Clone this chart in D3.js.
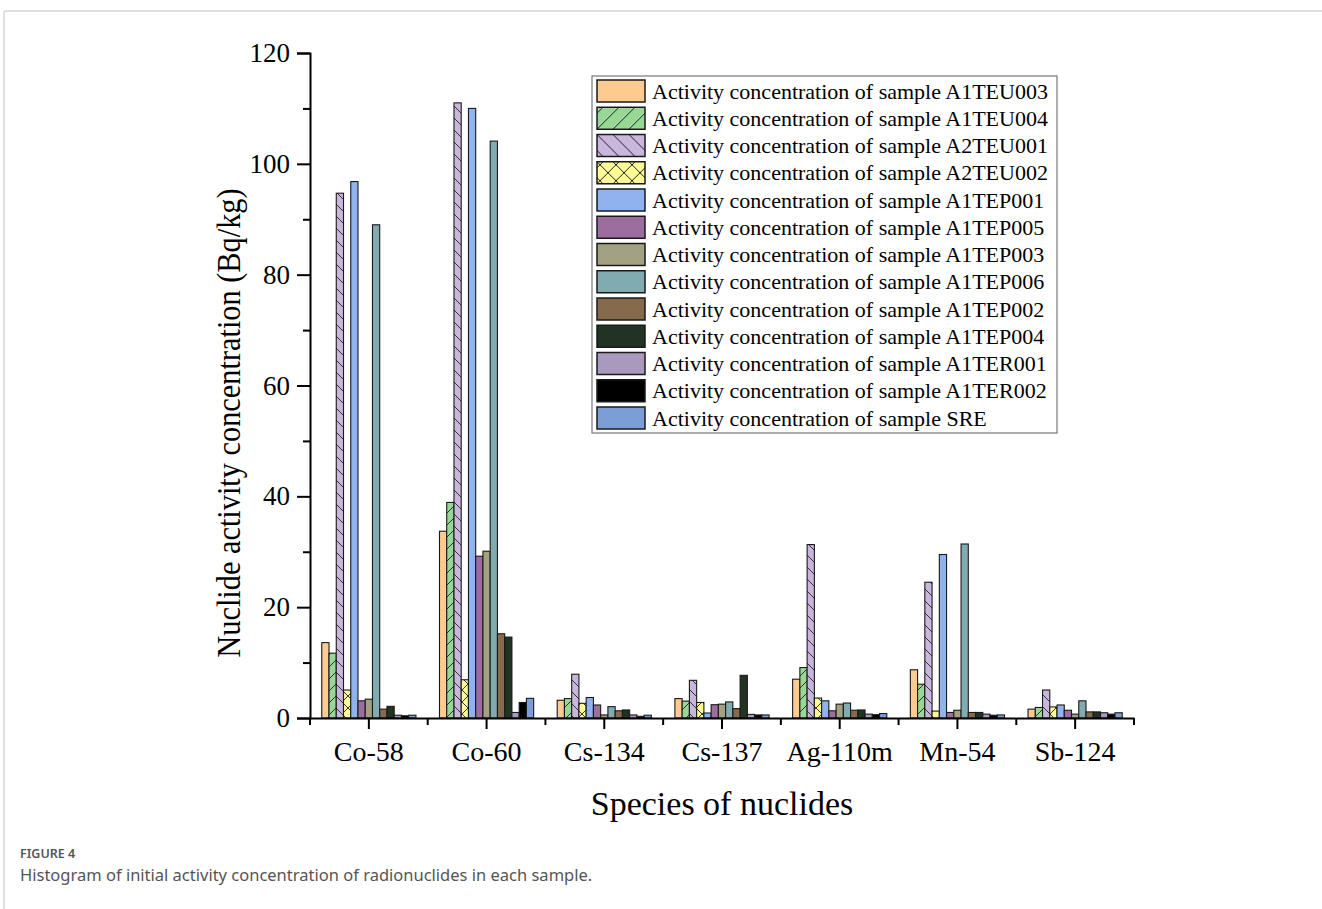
<!DOCTYPE html>
<html>
<head>
<meta charset="utf-8">
<script src="https://cdn.jsdelivr.net/npm/d3@7"></script>
<style>
  html, body { margin: 0; padding: 0; background: #fff; }
  svg { display: block; }
</style>
</head>
<body>
<svg id="chart" width="1322" height="909"></svg>
<script>
// ---------------- DATA ----------------
const categories = ["Co-58", "Co-60", "Cs-134", "Cs-137", "Ag-110m", "Mn-54", "Sb-124"];
const samples = ["A1TEU003", "A1TEU004", "A2TEU001", "A2TEU002", "A1TEP001", "A1TEP005",
                 "A1TEP003", "A1TEP006", "A1TEP002", "A1TEP004", "A1TER001", "A1TER002", "SRE"];
const A1TEU003 = [13.6, 33.7, 3.2, 3.5, 7.0, 8.7, 1.6];
const A1TEU004 = [11.7, 38.9, 3.5, 3.05, 9.1, 6.1, 1.9];
const A2TEU001 = [94.7, 111.0, 7.9, 6.8, 31.3, 24.5, 5.05];
const A2TEU002 = [5.05, 6.9, 2.65, 2.8, 3.6, 1.25, 2.0];
const A1TEP001 = [96.8, 110.0, 3.7, 0.9, 3.1, 29.5, 2.35];
const A1TEP005 = [3.1, 29.2, 2.35, 2.4, 1.3, 1.0, 1.4];
const A1TEP003 = [3.4, 30.1, 0.55, 2.5, 2.5, 1.4, 0.7];
const A1TEP006 = [89.0, 104.1, 2.05, 2.9, 2.7, 31.4, 3.1];
const A1TEP002 = [1.6, 15.2, 1.3, 1.7, 1.4, 1.0, 1.1];
const A1TEP004 = [2.1, 14.6, 1.45, 7.7, 1.45, 1.0, 1.1];
const A1TER001 = [0.5, 1.0, 0.55, 0.65, 0.7, 0.7, 0.95];
const A1TER002 = [0.4, 2.8, 0.3, 0.55, 0.6, 0.5, 0.7];
const SRE      = [0.5, 3.55, 0.5, 0.55, 0.8, 0.55, 0.95];
const yTicks = [0, 20, 40, 60, 80, 100, 120];
const yMinorTicks = [10, 30, 50, 70, 90, 110];

const seriesValues = [A1TEU003, A1TEU004, A2TEU001, A2TEU002, A1TEP001, A1TEP005,
                      A1TEP003, A1TEP006, A1TEP002, A1TEP004, A1TER001, A1TER002, SRE];
const colors = ["#fdcb90", "#97d897", "#c9b6dc", "#fbf996", "#8fb3ee", "#9b6e9f",
                "#a2a283", "#80acb1", "#866a4c", "#213322", "#aa99be", "#000000", "#7c9ed6"];
const hatch = ["none", "fwd", "back", "cross", "none", "none", "none", "none", "none", "none", "none", "none", "none"];

// ---------------- CHART ----------------
const svg = d3.select("#chart");
const serif = "'Liberation Serif', 'Times New Roman', serif";

// frame
svg.append("line").attr("x1", 4).attr("x2", 1322).attr("y1", 11).attr("y2", 11)
  .attr("stroke", "#d6d6d6").attr("stroke-width", 1.5);
svg.append("line").attr("x1", 4).attr("x2", 4).attr("y1", 11).attr("y2", 909)
  .attr("stroke", "#d6d6d6").attr("stroke-width", 1.5);

const defs = svg.append("defs");
function makePattern(id, bg, type, s, w) {
  const p = defs.append("pattern").attr("id", id).attr("patternUnits", "userSpaceOnUse")
    .attr("width", s).attr("height", s);
  p.append("rect").attr("width", s).attr("height", s).attr("fill", bg);
  const e = s / 4;
  if (type === "fwd" || type === "cross") {
    p.append("path").attr("d", `M${-e},${e} L${e},${-e} M0,${s} L${s},0 M${s-e},${s+e} L${s+e},${s-e}`)
      .attr("stroke", "#222").attr("stroke-width", w);
  }
  if (type === "back" || type === "cross") {
    p.append("path").attr("d", `M${-e},${s-e} L${e},${s+e} M0,0 L${s},${s} M${s-e},${-e} L${s+e},${e}`)
      .attr("stroke", "#222").attr("stroke-width", w);
  }
}
const fills = samples.map((s, i) => {
  if (hatch[i] === "none") return colors[i];
  makePattern("pat" + i, colors[i], hatch[i], 12, 0.9);
  return `url(#pat${i})`;
});
const legendFills = samples.map((s, i) => {
  if (hatch[i] === "none") return colors[i];
  makePattern("lpat" + i, colors[i], hatch[i], 16, 1);
  return `url(#lpat${i})`;
});

const x = d3.scaleBand().domain(categories).range([310, 1134]).padding(0);
const xs = d3.scaleBand().domain(samples).range([x.bandwidth() * 0.1, x.bandwidth() * 0.9]).padding(0);
const y = d3.scaleLinear().domain([0, 120]).range([718, 53]);

// bars
const table = [];
categories.forEach((c, ci) => samples.forEach((s, si) => table.push({ c, s, si, v: seriesValues[si][ci] })));

svg.append("g").selectAll("rect").data(table).join("rect")
  .attr("x", d => x(d.c) + xs(d.s))
  .attr("y", d => y(d.v))
  .attr("width", xs.bandwidth())
  .attr("height", d => y(0) - y(d.v))
  .attr("fill", d => fills[d.si])
  .attr("stroke", "#1a1a1a")
  .attr("stroke-width", 1.1);

// y axis
const yAxis = svg.append("g").attr("transform", "translate(310,0)")
  .call(d3.axisLeft(y).tickValues(yTicks).tickSize(13).tickPadding(7));
svg.append("g").attr("transform", "translate(310,0)")
  .call(d3.axisLeft(y).tickValues(yMinorTicks).tickSize(7).tickFormat(""))
  .call(g => g.select(".domain").remove());
// x axis
const xAxis = svg.append("g").attr("transform", "translate(0,718)")
  .call(d3.axisBottom(x).tickSize(11).tickPadding(12).tickSizeOuter(0));
const boundaries = d3.range(categories.length + 1).map(i => x.range()[0] + i * x.step());
svg.append("g").attr("transform", "translate(0,718)")
  .selectAll("line").data(boundaries).join("line")
  .attr("x1", d => d).attr("x2", d => d).attr("y1", 0).attr("y2", 7)
  .attr("stroke", "#000").attr("stroke-width", 2);

svg.selectAll(".domain").attr("stroke", "#000").attr("stroke-width", 2);
svg.selectAll(".tick line").attr("stroke", "#000").attr("stroke-width", 2);
yAxis.selectAll(".tick text").attr("font-family", serif).attr("font-size", 27).attr("fill", "#000");
xAxis.selectAll(".tick text").attr("font-family", serif).attr("font-size", 28).attr("fill", "#000");

// axis titles
svg.append("text").attr("transform", "translate(240,423) rotate(-90) scale(0.92,1)")
  .attr("text-anchor", "middle").attr("font-family", serif).attr("font-size", 33)
  .text("Nuclide activity concentration (Bq/kg)");
svg.append("text").attr("x", 722).attr("y", 815)
  .attr("text-anchor", "middle").attr("font-family", serif).attr("font-size", 34)
  .text("Species of nuclides");

// legend
const lg = svg.append("g");
lg.append("rect").attr("x", 592).attr("y", 76).attr("width", 465).attr("height", 357)
  .attr("fill", "#fff").attr("stroke", "#777").attr("stroke-width", 1.2);
const rows = lg.selectAll("g.row").data(samples).join("g").attr("class", "row")
  .attr("transform", (d, i) => `translate(0,${91 + i * 27.25})`);
rows.append("rect").attr("x", 597).attr("y", -11).attr("width", 48).attr("height", 22)
  .attr("fill", (d, i) => legendFills[i]).attr("stroke", "#1a1a1a").attr("stroke-width", 1.5);
rows.append("text").attr("x", 652).attr("y", 7.5)
  .attr("font-family", serif).attr("font-size", 22).attr("fill", "#000")
  .text(d => "Activity concentration of sample " + d);

// caption
svg.append("text").attr("x", 20).attr("y", 858)
  .attr("font-family", "'Noto Sans', 'Open Sans', sans-serif").attr("font-size", 12.5)
  .attr("font-weight", 600).attr("fill", "#555").text("FIGURE 4");
svg.append("text").attr("x", 20).attr("y", 881)
  .attr("font-family", "'Noto Sans', 'Open Sans', sans-serif").attr("font-size", 16.5)
  .attr("fill", "#555").text("Histogram of initial activity concentration of radionuclides in each sample.");
</script>
</body>
</html>
